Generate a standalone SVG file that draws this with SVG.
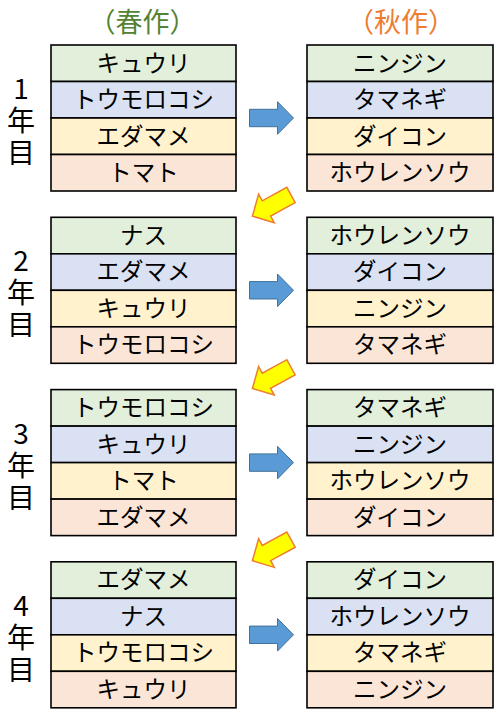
<svg xmlns="http://www.w3.org/2000/svg" width="500" height="714" viewBox="0 0 500 714">
<style>
.c{stroke:#000;stroke-width:1.6}
.g{fill:#E2EFDA}.b{fill:#D9E1F2}.y{fill:#FFF2CC}.p{fill:#FBE5D6}
.t{font-family:"Noto Sans CJK JP","Noto Sans",sans-serif;font-size:23.5px;fill:#000;text-anchor:middle}
.h{font-family:"Noto Sans CJK JP",sans-serif;font-size:27px;text-anchor:middle}
.yr{font-family:"Noto Sans CJK JP","Noto Sans",sans-serif;font-size:28px;text-anchor:middle;fill:#000}
.ba{fill:#5B9BD5;stroke:#41719C;stroke-width:1}
.ya{fill:#FFFF00;stroke:#ED7D31;stroke-width:1.5}
</style>
<defs>
<path id="arr" d="M0,-8.7 L28,-8.7 L28,-16.3 L44,0 L28,16.3 L28,8.7 L0,8.7 Z"/>
</defs>
<g id="headers">
<text class="h" x="142.5" y="32" fill="#548235">（春作）</text>
<text class="h" x="401" y="32" fill="#ED7D31">（秋作）</text>
</g>
<g id="year1"><text class="yr" x="21" y="99">1</text><text class="yr" x="21" y="131">年</text><text class="yr" x="21" y="163">目</text></g>
<g id="year2"><text class="yr" x="21" y="271">2</text><text class="yr" x="21" y="303">年</text><text class="yr" x="21" y="335">目</text></g>
<g id="year3"><text class="yr" x="21" y="444">3</text><text class="yr" x="21" y="476">年</text><text class="yr" x="21" y="508">目</text></g>
<g id="year4"><text class="yr" x="21" y="616">4</text><text class="yr" x="21" y="648">年</text><text class="yr" x="21" y="680">目</text></g>

<g id="spring1" transform="translate(51,45)">
<rect class="c g" x="0" y="0" width="185" height="36.5"/><text class="t" x="92.5" y="26.5">キュウリ</text>
<rect class="c b" x="0" y="36.5" width="185" height="36.5"/><text class="t" x="92.5" y="63">トウモロコシ</text>
<rect class="c y" x="0" y="73" width="185" height="36.5"/><text class="t" x="92.5" y="99.5">エダマメ</text>
<rect class="c p" x="0" y="109.5" width="185" height="36.5"/><text class="t" x="92.5" y="136">トマト</text>
</g>
<g id="autumn1" transform="translate(307,45)">
<rect class="c g" x="0" y="0" width="186" height="36.5"/><text class="t" x="93" y="26.5">ニンジン</text>
<rect class="c b" x="0" y="36.5" width="186" height="36.5"/><text class="t" x="93" y="63">タマネギ</text>
<rect class="c y" x="0" y="73" width="186" height="36.5"/><text class="t" x="93" y="99.5">ダイコン</text>
<rect class="c p" x="0" y="109.5" width="186" height="36.5"/><text class="t" x="93" y="136">ホウレンソウ</text>
</g>

<g id="spring2" transform="translate(51,217.3)">
<rect class="c g" x="0" y="0" width="185" height="36.5"/><text class="t" x="92.5" y="26.5">ナス</text>
<rect class="c b" x="0" y="36.5" width="185" height="36.5"/><text class="t" x="92.5" y="63">エダマメ</text>
<rect class="c y" x="0" y="73" width="185" height="36.5"/><text class="t" x="92.5" y="99.5">キュウリ</text>
<rect class="c p" x="0" y="109.5" width="185" height="36.5"/><text class="t" x="92.5" y="136">トウモロコシ</text>
</g>
<g id="autumn2" transform="translate(307,217.3)">
<rect class="c g" x="0" y="0" width="186" height="36.5"/><text class="t" x="93" y="26.5">ホウレンソウ</text>
<rect class="c b" x="0" y="36.5" width="186" height="36.5"/><text class="t" x="93" y="63">ダイコン</text>
<rect class="c y" x="0" y="73" width="186" height="36.5"/><text class="t" x="93" y="99.5">ニンジン</text>
<rect class="c p" x="0" y="109.5" width="186" height="36.5"/><text class="t" x="93" y="136">タマネギ</text>
</g>

<g id="spring3" transform="translate(51,389.6)">
<rect class="c g" x="0" y="0" width="185" height="36.5"/><text class="t" x="92.5" y="26.5">トウモロコシ</text>
<rect class="c b" x="0" y="36.5" width="185" height="36.5"/><text class="t" x="92.5" y="63">キュウリ</text>
<rect class="c y" x="0" y="73" width="185" height="36.5"/><text class="t" x="92.5" y="99.5">トマト</text>
<rect class="c p" x="0" y="109.5" width="185" height="36.5"/><text class="t" x="92.5" y="136">エダマメ</text>
</g>
<g id="autumn3" transform="translate(307,389.6)">
<rect class="c g" x="0" y="0" width="186" height="36.5"/><text class="t" x="93" y="26.5">タマネギ</text>
<rect class="c b" x="0" y="36.5" width="186" height="36.5"/><text class="t" x="93" y="63">ニンジン</text>
<rect class="c y" x="0" y="73" width="186" height="36.5"/><text class="t" x="93" y="99.5">ホウレンソウ</text>
<rect class="c p" x="0" y="109.5" width="186" height="36.5"/><text class="t" x="93" y="136">ダイコン</text>
</g>

<g id="spring4" transform="translate(51,561.8)">
<rect class="c g" x="0" y="0" width="185" height="36.5"/><text class="t" x="92.5" y="26.5">エダマメ</text>
<rect class="c b" x="0" y="36.5" width="185" height="36.5"/><text class="t" x="92.5" y="63">ナス</text>
<rect class="c y" x="0" y="73" width="185" height="36.5"/><text class="t" x="92.5" y="99.5">トウモロコシ</text>
<rect class="c p" x="0" y="109.5" width="185" height="36.5"/><text class="t" x="92.5" y="136">キュウリ</text>
</g>
<g id="autumn4" transform="translate(307,561.8)">
<rect class="c g" x="0" y="0" width="186" height="36.5"/><text class="t" x="93" y="26.5">ダイコン</text>
<rect class="c b" x="0" y="36.5" width="186" height="36.5"/><text class="t" x="93" y="63">ホウレンソウ</text>
<rect class="c y" x="0" y="73" width="186" height="36.5"/><text class="t" x="93" y="99.5">タマネギ</text>
<rect class="c p" x="0" y="109.5" width="186" height="36.5"/><text class="t" x="93" y="136">ニンジン</text>
</g>

<g id="connectors">
<use href="#arr" class="ba" transform="translate(249.5,118)"/>
<use href="#arr" class="ba" transform="translate(249.5,290.3)"/>
<use href="#arr" class="ba" transform="translate(249.5,462.6)"/>
<use href="#arr" class="ba" transform="translate(249.5,634.8)"/>
<use href="#arr" class="ya" transform="translate(291,195) rotate(151.3)"/>
<use href="#arr" class="ya" transform="translate(291,367.3) rotate(151.3)"/>
<use href="#arr" class="ya" transform="translate(291,539.6) rotate(151.3)"/>
</g>
</svg>
